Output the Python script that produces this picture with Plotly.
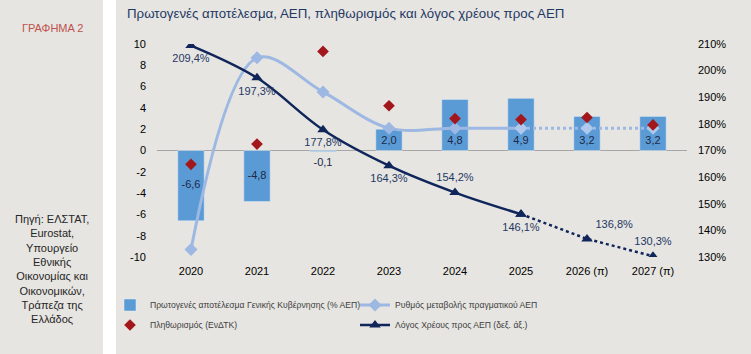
import plotly.graph_objects as go

years = ["2020", "2021", "2022", "2023", "2024", "2025", "2026 (π)", "2027 (π)"]
primary_balance = [-6.6, -4.8, -0.1, 2.0, 4.8, 4.9, 3.2, 3.2]
gdp_growth = [-9.3, 8.7, 5.5, 2.1, 2.1, 2.1, 2.1, 2.1]
inflation = [-1.3, 0.6, 9.3, 4.2, 3.0, 2.9, 3.1, 2.4]
debt_ratio = [209.4, 197.3, 177.8, 164.3, 154.2, 146.1, 136.8, 130.3]
left_ticks = [-10, -8, -6, -4, -2, 0, 2, 4, 6, 8, 10]
right_ticks = [130, 140, 150, 160, 170, 180, 190, 200, 210]
n_actual = 6  # 2020-2025 actual, 2026-2027 forecast

W, H = 751, 354
ML, MR, MT, MB = 157, 64, 44, 97
PW, PH = W - ML - MR, H - MT - MB


def px(x):
    return (x - ML) / PW


def py(y):
    return (H - y - MB) / PH


GREY = "#E6E5E1"
BAR = "#5B9BD5"
LIGHT = "#9DB8E2"
NAVY = "#10265A"
RED = "#A3161C"
FONT = "Liberation Sans, Arial, sans-serif"

def fmt(v):
    return f"{v:.1f}".replace(".", ",")

fig = go.Figure()

fig.add_trace(go.Bar(
    x=years, y=primary_balance, width=0.4, marker_color=BAR,
    name="Πρωτογενές αποτέλεσμα Γενικής Κυβέρνησης (% ΑΕΠ)",
    legend="legend",
))

# bar labels
bar_label_y = [v / 2 if v < -1 else (v - 1.05 if v < 0 else 0.9) for v in primary_balance]
fig.add_trace(go.Scatter(
    x=years, y=bar_label_y, mode="text", text=[fmt(v) for v in primary_balance],
    textfont=dict(size=11, color="#1B2A48", family=FONT), showlegend=False, hoverinfo="skip",
))

# GDP growth
fig.add_trace(go.Scatter(
    x=years[:n_actual], y=gdp_growth[:n_actual], mode="lines+markers",
    line=dict(color=LIGHT, width=3, shape="spline"),
    marker=dict(symbol="diamond", size=10, color=LIGHT),
    name="Ρυθμός μεταβολής πραγματικού ΑΕΠ", legend="legend",
))
fig.add_trace(go.Scatter(
    x=years[n_actual - 1:], y=gdp_growth[n_actual - 1:], mode="lines+markers",
    line=dict(color=LIGHT, width=3, dash="dot"),
    marker=dict(symbol="diamond", size=10, color="#AFC8EC"),
    showlegend=False,
))

# inflation
fig.add_trace(go.Scatter(
    x=years, y=inflation, mode="markers",
    marker=dict(symbol="diamond", size=9, color=RED),
    name="Πληθωρισμός (ΕνΔΤΚ)", legend="legend2",
))

# debt ratio (right axis)
fig.add_trace(go.Scatter(
    x=years[:n_actual], y=debt_ratio[:n_actual], mode="lines+markers", yaxis="y2",
    line=dict(color=NAVY, width=2.5, shape="spline"),
    marker=dict(symbol="triangle-up", size=10, color=NAVY),
    name="Λόγος Χρέους προς ΑΕΠ (δεξ. άξ.)", legend="legend2",
))
fig.add_trace(go.Scatter(
    x=years[n_actual - 1:], y=debt_ratio[n_actual - 1:], mode="lines+markers", yaxis="y2",
    line=dict(color=NAVY, width=2.5, dash="dot"),
    marker=dict(symbol="triangle-up", size=10, color=NAVY),
    showlegend=False,
))
debt_pos = ["bottom center", "bottom center", "bottom center", "bottom center",
            "top center", "bottom center", "top right", "top center"]
fig.add_trace(go.Scatter(
    x=years, y=debt_ratio, mode="markers+text", yaxis="y2",
    text=[fmt(v) + "%" for v in debt_ratio], textposition=debt_pos,
    textfont=dict(size=11, color="#1F3864", family=FONT),
    marker=dict(size=12, color="rgba(0,0,0,0)"), showlegend=False, hoverinfo="skip",
))

legend_common = dict(orientation="h", xanchor="left", yanchor="middle",
                     bgcolor="rgba(0,0,0,0)", font=dict(size=8.6, color="#404040"),
                     entrywidth=200, entrywidthmode="pixels", itemwidth=30, tracegroupgap=0)

fig.update_layout(
    width=W, height=H, margin=dict(l=ML, r=MR, t=MT, b=MB, pad=0),
    paper_bgcolor=GREY, plot_bgcolor="rgba(0,0,0,0)",
    font=dict(family=FONT, size=11, color="#000000"),
    showlegend=True,
    xaxis=dict(type="category", showgrid=False, showline=False, zeroline=False,
               ticks="", tickfont=dict(size=11, color="#000000"), ticklabelstandoff=6),
    yaxis=dict(range=[-10, 10], tickvals=left_ticks, ticktext=[str(v) for v in left_ticks],
               showgrid=False, zeroline=True, zerolinecolor="#A6A6A6", zerolinewidth=1,
               showline=False, ticks="", ticklabelstandoff=10, tickfont=dict(size=11)),
    yaxis2=dict(range=[130, 210], tickvals=right_ticks, ticktext=[f"{v}%" for v in right_ticks],
                overlaying="y", side="right", showgrid=False, zeroline=False, showline=False,
                ticks="", ticklabelstandoff=10, tickfont=dict(size=11)),
    legend=dict(x=px(110), y=py(305), **legend_common),
    legend2=dict(x=px(110), y=py(325), **legend_common),
    shapes=[dict(type="rect", xref="paper", yref="paper", x0=px(103), x1=px(116),
                 y0=py(H), y1=py(0), fillcolor="#FFFFFF", line_width=0, layer="below")],
    annotations=[
        dict(text="Πρωτογενές αποτέλεσμα, ΑΕΠ, πληθωρισμός και λόγος χρέους προς ΑΕΠ",
             xref="paper", yref="paper", x=px(125), y=py(14), xanchor="left", yanchor="middle",
             showarrow=False, font=dict(size=13.3, color="#1F3864")),
        dict(text="ΓΡΑΦΗΜΑ 2", xref="paper", yref="paper", x=px(52), y=py(28),
             xanchor="center", yanchor="middle", showarrow=False,
             font=dict(size=11, color="#C0504D")),
        dict(text="Πηγή: ΕΛΣΤΑΤ,<br>Eurostat,<br>Υπουργείο<br>Εθνικής<br>Οικονομίας και<br>Οικονομικών,<br>Τράπεζα της<br>Ελλάδος",
             xref="paper", yref="paper", x=px(52), y=py(269), xanchor="center", yanchor="middle",
             showarrow=False, align="center", font=dict(size=11, color="#262626")),
    ],
)

fig.write_html("out.html")
